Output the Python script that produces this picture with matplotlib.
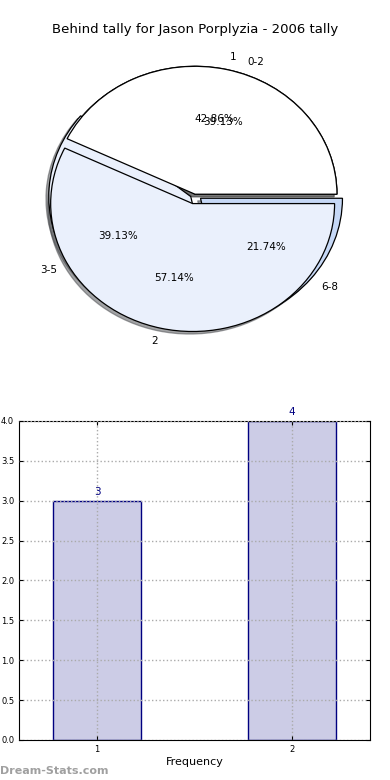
import matplotlib
matplotlib.use('Agg')
import matplotlib.pyplot as plt
import numpy as np

#data:
tally_labels=['1','2']
tally_counts=[3,4]
range_labels=['0-2','3-5','6-8']
range_counts=[9,9,5]
bar_x=[1,2]
bar_heights=[3,4]

#colors:
white='#ffffff'
light='#eaf0fc'
blue='#c6d8f6'

fig=plt.figure(figsize=(3.9,7.8),dpi=100)

#pie chart (two pies drawn into one axes)
ax=fig.add_axes([0.045,0.546,0.910,0.410])
wp={'edgecolor':'black','linewidth':0.9}
shad={'ox':-0.0144,'oy':-0.0144}
ax.pie(range_counts,labels=range_labels,explode=[0,0.035,0.05],
       colors=[white,light,blue],autopct='%.2f%%',shadow=shad,
       startangle=0,wedgeprops=wp,textprops={'fontsize':7.5})
ax.pie(tally_counts,labels=tally_labels,explode=[0,0.075],
       colors=[white,light],autopct='%.2f%%',shadow=shad,
       startangle=0,wedgeprops=wp,textprops={'fontsize':7.5})
ax.set_aspect('auto')
ax.set_xlim(-1.25,1.25)
ax.set_ylim(-1.25,1.25)
fig.text(0.5,1-30/780.,'Behind tally for Jason Porplyzia - 2006 tally',fontsize=9.5,ha='center',va='center')

#bar chart
ax2=fig.add_axes([0.0487,0.0513,0.9,0.409])
ax2.bar(bar_x,bar_heights,width=0.45,color='#ccccE6',edgecolor='#000080',linewidth=1,zorder=2)
for x,h in zip(bar_x,bar_heights):
    ax2.text(x,h+0.05,str(h),ha='center',va='bottom',color='#000080',fontsize=7.5)
ax2.set_xlim(0.6,2.4)
ax2.set_ylim(0,4)
ax2.set_xticks(bar_x)
ax2.set_yticks(np.arange(0,4.01,0.5))
ax2.tick_params(direction='in',labelsize=6,top=True,right=True,length=3)
ax2.grid(True,linestyle=':',color='#aaaaaa',linewidth=1,zorder=3)
ax2.set_axisbelow(False)
ax2.set_xlabel('Frequency',fontsize=8,labelpad=2)

#watermark
fig.text(0.0,0.005,'Dream-Stats.com',color='#a0a0a0',fontsize=8,fontweight='bold',ha='left',va='bottom')

fig.savefig('out.png',dpi=100)
